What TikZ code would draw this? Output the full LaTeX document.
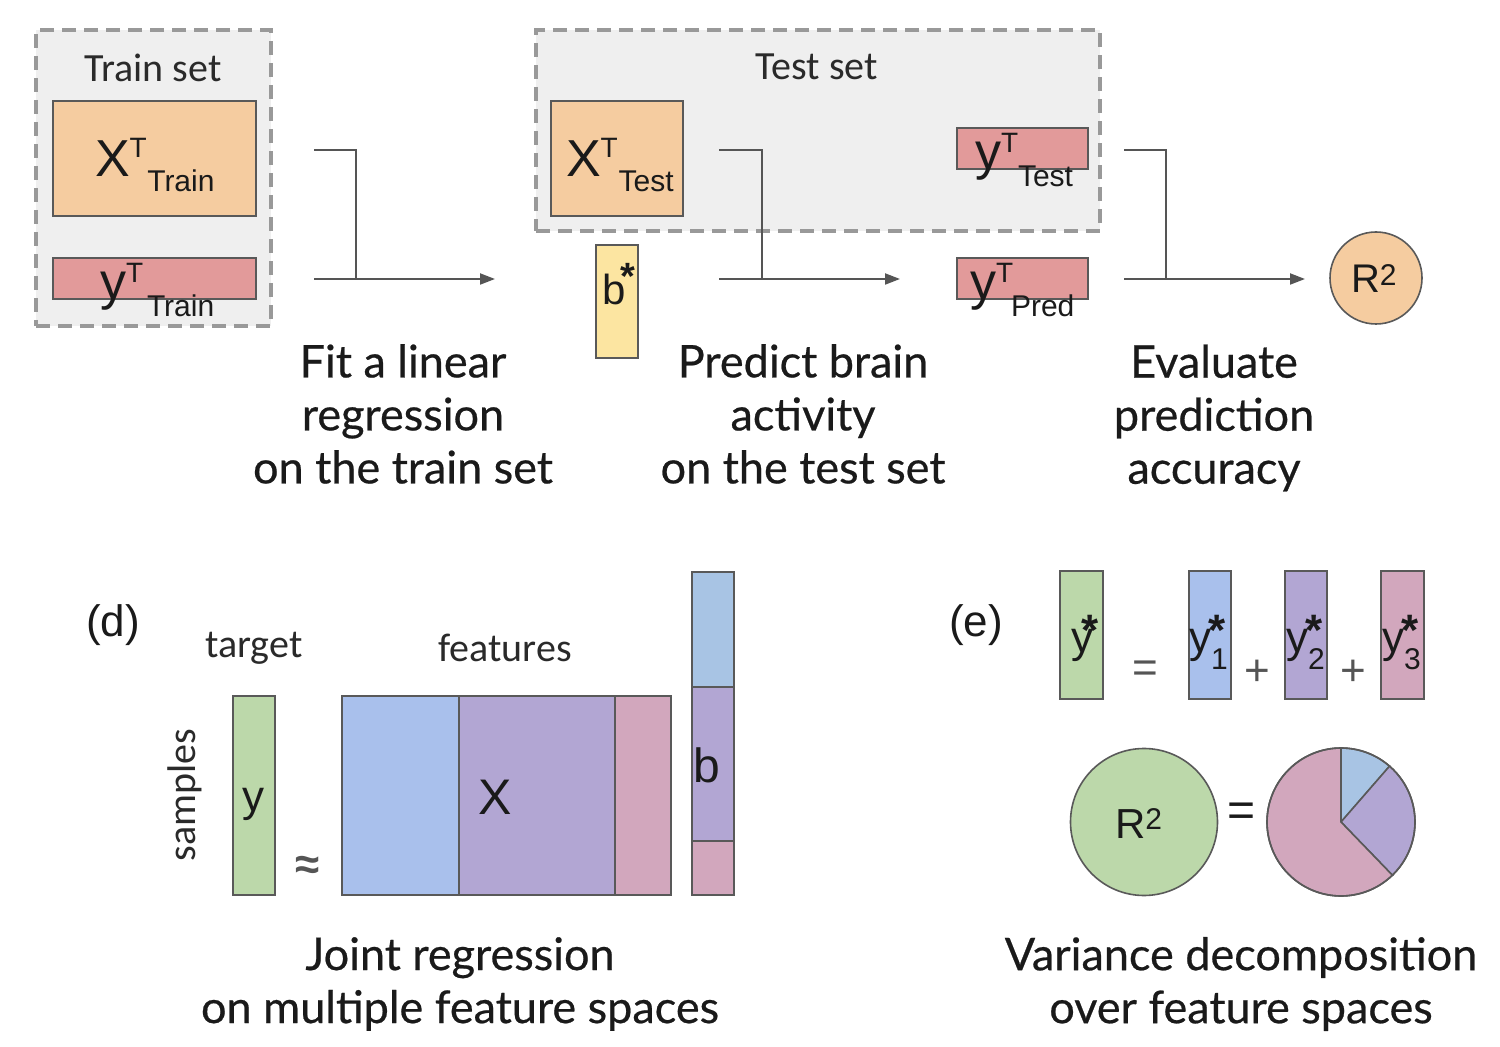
\documentclass[tikz,border=0pt]{standalone}
\usepackage{fontspec}
\setmainfont{Liberation Sans}
\newfontface\lato{Lato}[FakeBold=0.5]
\newfontfamily\carl{Carlito}
\usetikzlibrary{arrows.meta}
\definecolor{bgg}{HTML}{EFEFEF}
\definecolor{dashg}{HTML}{999999}
\definecolor{edge}{HTML}{595959}
\definecolor{lorange}{HTML}{F5CCA0}
\definecolor{lred}{HTML}{E29A9A}
\definecolor{lyellow}{HTML}{FCE5A1}
\definecolor{lgreen}{HTML}{BCD8AA}
\definecolor{lblue}{HTML}{A9C0EC}
\definecolor{lblueb}{HTML}{A8C4E4}
\definecolor{lpurple}{HTML}{B2A6D3}
\definecolor{lpink}{HTML}{D2A7BD}
\definecolor{conng}{HTML}{555555}
\definecolor{txt}{HTML}{1A1A1A}
\definecolor{ltxt}{HTML}{2A2A2A}
\newcommand\myfs[1]{\fontsize{#1}{#1}\selectfont}
% base, sup, sub, raise, lower, subshift
\newcommand\SSc[6]{{\myfs{26}#1}\rlap{\myfs{14}\raisebox{#4}{#2}}\hspace{#6}{\myfs{15}\raisebox{-#5}{#3}}}
% hspace before star, hspace before sub, sub
\newcommand\ystar[3]{{\myfs{22}y}\rlap{\hspace{#1}\myfs{22}\bfseries\raisebox{3.5pt}{*}}\hspace{#2}{\myfs{15}\raisebox{-8.5pt}{#3}}}
\newcommand\boxnode[6]{\node[matbox,fill=#6,minimum width={(#4-#2)*0.5pt},minimum height={(#5-#3)*0.5pt}] (#1) at ({(#2+#4)/2},{(#3+#5)/2}) {};}
\tikzset{
  matbox/.style={draw=edge,line width=0.8pt,inner sep=0pt,outer sep=0pt,rectangle},
  setbox/.style={draw=dashg,fill=bgg,line width=2pt,dash pattern=on 7pt off 4pt},
  conn/.style={draw=conng,line width=1pt},
  arr/.style={conn,-{Triangle[length=7.5pt,width=5.5pt]}},
  lbl/.style={inner sep=0pt,outer sep=0pt,text=txt},
  captxt/.style={lbl,font=\lato\myfs{22.5},align=center},
  smalltxt/.style={lbl,text=ltxt,font=\carl\myfs{20}},
}
\begin{document}
\begin{tikzpicture}[x=0.5pt,y=-0.5pt]
\useasboundingbox[fill=white] (0,0) rectangle (1500,1047);
% ---------- train set ----------
\node[setbox,minimum width=117.5pt,minimum height=148pt,inner sep=0pt] (trainset) at (153.5,178) {};
\node[smalltxt] (trainlbl) at (153,68) {Train set};
\boxnode{xtrainbox}{53}{101}{256}{216}{lorange}
\boxnode{ytrainbox}{53}{258}{256}{299}{lred}
\node[lbl,anchor=base west] (xtrain) at (95,177) {\SSc{X}{T}{Train}{9.5pt}{7.5pt}{8.8pt}};
\node[lbl,anchor=base west] (ytrain) at (100,300) {\SSc{y}{T}{Train}{8.5pt}{8.5pt}{10.5pt}};
% ---------- test set ----------
\node[setbox,minimum width=282pt,minimum height=100.5pt,inner sep=0pt] (testset) at (818,130.5) {};
\node[smalltxt] (testlbl) at (817,67) {Test set};
\boxnode{xtestbox}{551}{101}{683}{216}{lorange}
\boxnode{ytestbox}{957}{128}{1088}{169}{lred}
\boxnode{bstarbox}{596}{245}{638}{358}{lyellow}
\boxnode{ypredbox}{957}{258}{1088}{299}{lred}
\node[lbl,anchor=base west] (xtest) at (566,177) {\SSc{X}{T}{Test}{9.5pt}{7.5pt}{9pt}};
\node[lbl,anchor=base west] (ytest) at (975,170) {\SSc{y}{T}{Test}{8.5pt}{8.5pt}{8.5pt}};
\node[lbl,anchor=base west] (ypred) at (970,300) {\SSc{y}{T}{Pred}{8.5pt}{8.5pt}{7.5pt}};
\node[lbl,anchor=base west] (bstar) at (602,305) {{\myfs{21}b}\rlap{\hspace{-2.2pt}\myfs{19}\bfseries\raisebox{7.5pt}{*}}};
% ---------- R2 ----------
\node[circle,draw=edge,line width=0.8pt,fill=lorange,minimum size=46pt,inner sep=0pt] (rtwo) at (1376,278) {};
\node[lbl,anchor=base west] (rtwolbl) at (1351,293) {{\myfs{20}R}{\myfs{15}\raisebox{3.6pt}{2}}};
% ---------- connectors ----------
\coordinate (a1s) at (314,279); \coordinate (a1e) at (495,279);
\coordinate (a1t) at (314,150); \coordinate (a1k) at (356,279);
\draw[arr] (a1s) -- (a1e);
\draw[conn] (a1t) -| (a1k);
\coordinate (a2s) at (719,279); \coordinate (a2e) at (900,279);
\coordinate (a2t) at (719,150); \coordinate (a2k) at (762,279);
\draw[arr] (a2s) -- (a2e);
\draw[conn] (a2t) -| (a2k);
\coordinate (a3s) at (1124,279); \coordinate (a3e) at (1305,279);
\coordinate (a3t) at (1124,150); \coordinate (a3k) at (1166,279);
\draw[arr] (a3s) -- (a3e);
\draw[conn] (a3t) -| (a3k);
% ---------- captions ----------
\node[captxt] (cap1) at (403,414) {Fit a linear\\[4pt]regression\\[4pt]on the train set};
\node[captxt] (cap2) at (803,414) {Predict brain\\[4pt]activity\\[4pt]on the test set};
\node[captxt] (cap3) at (1214,418) {Evaluate\\[4pt]prediction\\[4pt]accuracy};
% ---------- (d) ----------
\node[lbl,font=\myfs{22}] (dlbl) at (113,625) {(d)};
\node[smalltxt] (target) at (254,648) {target};
\node[smalltxt] (features) at (505,648) {features};
\node[smalltxt,rotate=90] (samples) at (185,795) {samples};
\boxnode{ybox}{233}{696}{275}{895}{lgreen}
\node[lbl,font=\myfs{22}] (ylbl) at (253,804) {y};
\node[lbl,font=\bfseries\myfs{22},text=conng] (approx) at (308,868) {≈};
\boxnode{xone}{342}{696}{459}{895}{lblue}
\boxnode{xtwo}{459}{696}{615}{895}{lpurple}
\boxnode{xthree}{615}{696}{671}{895}{lpink}
\node[lbl,font=\myfs{25}] (xlbl) at (495,797) {X};
\boxnode{bone}{692}{572}{734}{687}{lblueb}
\boxnode{btwo}{692}{687}{734}{841}{lpurple}
\boxnode{bthree}{692}{841}{734}{895}{lpink}
\node[lbl,font=\myfs{24}] (blbl) at (707,765) {b};
\node[captxt] (cap4) at (460,984) {Joint regression\\[4pt]on multiple feature spaces};
% ---------- (e) ----------
\node[lbl,font=\myfs{22}] (elbl) at (976,625) {(e)};
\boxnode{ysbox}{1060}{571}{1103}{699}{lgreen}
\boxnode{yonebox}{1189}{571}{1231}{699}{lblue}
\boxnode{ytwobox}{1285}{571}{1327}{699}{lpurple}
\boxnode{ythreebox}{1381}{571}{1424}{699}{lpink}
\node[lbl,anchor=base west] (ys) at (1071,653) {{\myfs{22}y}\rlap{\hspace{-5.8pt}\myfs{22}\bfseries\raisebox{3.5pt}{*}}};
\node[lbl,anchor=base west] (yone) at (1189,653) {\ystar{-1.5pt}{0pt}{1}};
\node[lbl,anchor=base west] (ytwo) at (1286,653) {\ystar{-1.5pt}{0pt}{2}};
\node[lbl,anchor=base west] (ythree) at (1382,653) {\ystar{-1.5pt}{0pt}{3}};
\node[lbl,font=\myfs{22},text=conng] (eq1) at (1145,672) {=};
\node[lbl,font=\myfs{22},text=conng] (plus1) at (1257,673) {+};
\node[lbl,font=\myfs{22},text=conng] (plus2) at (1353,673) {+};
\node[circle,draw=edge,line width=0.8pt,fill=lgreen,minimum size=73.5pt,inner sep=0pt] (rgreen) at (1144,822) {};
\node[lbl,anchor=base west] (rgreenlbl) at (1115,838) {{\myfs{21}R}{\myfs{15}\raisebox{4.3pt}{2}}};
\node[lbl,font=\myfs{24}] (eq2) at (1242,815) {=};
\coordinate (pc) at (1341,822);
\filldraw[fill=lblueb,draw=edge,line width=0.8pt] (pc) -- ++(90:37pt) arc[start angle=90,end angle=49,radius=37pt] -- cycle;
\filldraw[fill=lpurple,draw=edge,line width=0.8pt] (pc) -- ++(49:37pt) arc[start angle=49,end angle=-46,radius=37pt] -- cycle;
\filldraw[fill=lpink,draw=edge,line width=0.8pt] (pc) -- ++(-46:37pt) arc[start angle=-46,end angle=-270,radius=37pt] -- cycle;
\node[circle,draw=edge,line width=0.8pt,minimum size=74pt,inner sep=0pt] (pie) at (pc) {};
\node[captxt] (cap5) at (1241,984) {Variance decomposition\\[4pt]over feature spaces};
\end{tikzpicture}
\end{document}
